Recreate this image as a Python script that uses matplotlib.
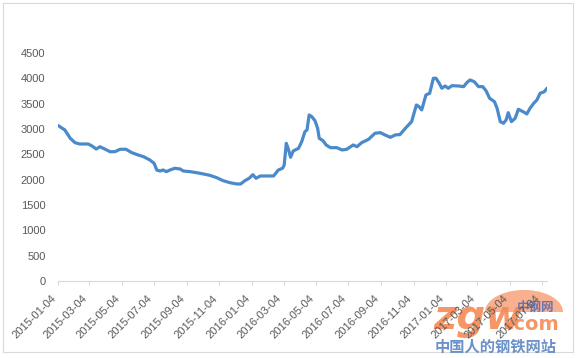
import matplotlib
matplotlib.use("Agg")
import matplotlib.pyplot as plt
import matplotlib.dates as mdates
import numpy as np
import pandas as pd
from matplotlib.patches import Rectangle, Polygon

dates = [
    "2015-01-04", "2015-01-17", "2015-01-27", "2015-02-05", "2015-02-14", "2015-03-02",
    "2015-03-09", "2015-03-17", "2015-03-24", "2015-04-03", "2015-04-12", "2015-04-21",
    "2015-05-01", "2015-05-12", "2015-05-23", "2015-06-04", "2015-06-14", "2015-06-26",
    "2015-07-04", "2015-07-09", "2015-07-15", "2015-07-21", "2015-07-27", "2015-08-03",
    "2015-08-12", "2015-08-22", "2015-08-28", "2015-09-10", "2015-09-22", "2015-10-05",
    "2015-10-17", "2015-10-30", "2015-11-11", "2015-11-24", "2015-12-07", "2015-12-14",
    "2015-12-22", "2015-12-30", "2016-01-06", "2016-01-12", "2016-01-20", "2016-02-01",
    "2016-02-14", "2016-02-23", "2016-03-02", "2016-03-05", "2016-03-09", "2016-03-13",
    "2016-03-17", "2016-03-22", "2016-04-01", "2016-04-07", "2016-04-13", "2016-04-17",
    "2016-04-21", "2016-04-26", "2016-05-02", "2016-05-07", "2016-05-10", "2016-05-17",
    "2016-05-23", "2016-05-31", "2016-06-12", "2016-06-22", "2016-07-01", "2016-07-13",
    "2016-07-20", "2016-07-29", "2016-08-11", "2016-08-23", "2016-09-02", "2016-09-11",
    "2016-09-21", "2016-09-30", "2016-10-09", "2016-10-22", "2016-10-31", "2016-11-09",
    "2016-11-14", "2016-11-19", "2016-11-27", "2016-12-04", "2016-12-11", "2016-12-16",
    "2016-12-22", "2016-12-27", "2017-01-02", "2017-01-08", "2017-01-15", "2017-01-27",
    "2017-02-06", "2017-02-12", "2017-02-18", "2017-02-26", "2017-03-06", "2017-03-14",
    "2017-03-20", "2017-03-27", "2017-04-05", "2017-04-10", "2017-04-16", "2017-04-22",
    "2017-04-27", "2017-05-01", "2017-05-07", "2017-05-14", "2017-05-20", "2017-05-29",
    "2017-06-05", "2017-06-11", "2017-06-18", "2017-06-24", "2017-06-30", "2017-07-08",
    "2017-07-13",
]
prices = [
    3070, 2980, 2817, 2730, 2704, 2704,
    2665, 2605, 2650, 2600, 2552, 2552,
    2600, 2600, 2533, 2487, 2454, 2389,
    2323, 2191, 2171, 2191, 2158, 2191,
    2225, 2211, 2171, 2158, 2138, 2112,
    2086, 2039, 1980, 1940, 1915, 1915,
    1980, 2027, 2098, 2027, 2073, 2073,
    2073, 2191, 2225, 2290, 2718, 2600,
    2442, 2566, 2619, 2750, 2947, 2981,
    3277, 3243, 3164, 3014, 2817, 2770,
    2685, 2632, 2632, 2586, 2600, 2685,
    2651, 2731, 2797, 2916, 2928, 2882,
    2836, 2882, 2890, 3046, 3145, 3474,
    3441, 3376, 3672, 3705, 4001, 4001,
    3903, 3804, 3849, 3804, 3855, 3849,
    3836, 3915, 3968, 3934, 3836, 3836,
    3757, 3606, 3540, 3409, 3145, 3113,
    3178, 3322, 3145, 3212, 3389, 3342,
    3297, 3409, 3508, 3573, 3705, 3737,
    3804,
]
y_ticks = [0, 500, 1000, 1500, 2000, 2500, 3000, 3500, 4000, 4500]

x = pd.to_datetime(dates)

W, H = 579, 358
fig = plt.figure(figsize=(W / 100, H / 100), dpi=100)
fig.patch.set_facecolor("white")
fig.patches.append(Rectangle((3 / W, 1 - 352 / H), 570 / W, 349 / H, transform=fig.transFigure,
                             fill=False, edgecolor="#D9D9D9", linewidth=0.8, zorder=-3))

# watermark dome (decoration, drawn behind the chart)
t = np.linspace(0, np.pi, 60)
dome = np.column_stack([(524 + 39 * np.cos(t)) / W, 1 - (312 - 22 * np.sin(t)) / H])
fig.patches.append(Polygon(dome, closed=True, transform=fig.transFigure,
                           facecolor="#F7A27A", edgecolor="none", alpha=0.85, zorder=-2))

ax = fig.add_axes([58 / W, 1 - 281 / H, (547 - 58) / W, (281 - 53) / H])
ax.patch.set_alpha(0)
ax.plot(x, prices, color="#4A8ACB", linewidth=2.3, solid_joinstyle="round", solid_capstyle="round")

ax.set_ylim(0, 4500)
ax.set_yticks(y_ticks)
ax.set_xlim(x[0], x[-1])
ax.xaxis.set_major_locator(mdates.MonthLocator(bymonth=[1, 3, 5, 7, 9, 11], bymonthday=4))
ax.xaxis.set_major_formatter(mdates.DateFormatter("%Y-%m-%d"))

for s in ["top", "right", "left"]:
    ax.spines[s].set_visible(False)
ax.spines["bottom"].set_color("#D9D9D9")
ax.spines["bottom"].set_linewidth(0.8)

ax.tick_params(axis="y", length=0, pad=9, labelsize=8, labelcolor="#595959")
ax.tick_params(axis="x", length=3, width=0.8, color="#D9D9D9", direction="out", pad=6,
               labelsize=8, labelcolor="#595959")
for lab in ax.get_xticklabels():
    lab.set_rotation(45)
    lab.set_ha("right")
    lab.set_va("top")
for lab in ax.get_xticklabels() + ax.get_yticklabels():
    lab.set_family(["Liberation Sans", "DejaVu Sans"])

# watermark texts (behind the axes and its labels)
wm_font = ["Noto Sans CJK SC", "DejaVu Sans"]
fig.text(433 / W, 1 - 329 / H, "zgw", color="#F58A55", fontsize=29, fontweight="bold",
         fontstyle="italic", family=["DejaVu Sans"], alpha=0.9, ha="left", va="baseline", zorder=-1)
fig.text(506 / W, 1 - 330 / H, ".com", color="#F58A55", fontsize=14, fontweight="bold",
         family=["DejaVu Sans"], alpha=0.9, ha="left", va="baseline", zorder=-1)
fig.text(517 / W, 1 - 311 / H, "中钢网", color="#5D6DB3", fontsize=9, fontweight="bold",
         family=wm_font, alpha=0.9, ha="left", va="baseline", zorder=-1)
fig.text(435 / W, 1 - 352 / H, "中国人的钢铁网站", color="#5B86C4", fontsize=11,
         fontweight="bold", family=wm_font, alpha=0.9, ha="left", va="baseline", zorder=-1)

fig.savefig("out.png", dpi=100, facecolor="white")
